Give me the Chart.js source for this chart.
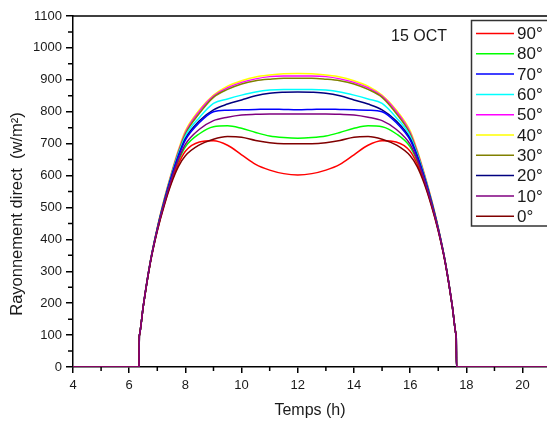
<!DOCTYPE html>
<html lang="fr">
<head>
<meta charset="UTF-8">
<title>Rayonnement direct - 15 OCT</title>
<script src="https://cdn.jsdelivr.net/npm/chart.js"></script>
<style>
  html, body { margin: 0; padding: 0; background: #fff; }
  canvas { display: block; }
</style>
</head>
<body>
<canvas id="rayChart" width="547" height="421"></canvas>
<script>
// heures (h)
var temps = [4, 6.35, 6.36, 6.365, 6.5, 6.75, 7, 7.25, 7.5, 7.75, 8, 8.5, 9, 9.5, 10, 10.5, 11, 11.5, 12,
             12.5, 13, 13.5, 14, 14.5, 15, 15.5, 16, 16.25, 16.5, 16.75, 17, 17.25, 17.5, 17.635, 17.64, 17.65, 21];

// rayonnement direct (w/m2) par inclinaison
var ray90 = [0, 0, 96, 100, 189, 326, 428, 510, 580, 636, 676, 705, 709, 695, 665, 635, 617, 606, 602,
             606, 617, 635, 665, 695, 709, 705, 676, 636, 580, 510, 428, 326, 189, 100, 96, 0, 0];
var ray80 = [0, 0, 96, 100, 189, 327, 429, 513, 585, 645, 690, 731, 753, 756, 748, 735, 724, 719, 717,
             719, 724, 735, 748, 756, 753, 731, 690, 645, 585, 513, 429, 327, 189, 100, 96, 0, 0];
var ray70 = [0, 0, 96, 100, 190, 328, 432, 519, 594, 659, 711, 766, 800, 805, 806, 807, 808, 807, 806,
             807, 808, 807, 806, 805, 800, 766, 711, 659, 594, 519, 432, 328, 190, 100, 96, 0, 0];
var ray60 = [0, 0, 96, 100, 191, 329, 434, 522, 600, 668, 724, 782, 826, 840, 852, 862, 868, 870, 870,
             870, 868, 862, 852, 840, 826, 782, 724, 668, 600, 522, 434, 329, 191, 100, 96, 0, 0];
var ray50 = [0, 0, 96, 100, 192, 330, 436, 526, 605, 676, 735, 802, 849, 875, 892, 903, 910, 912, 912,
             912, 910, 903, 892, 875, 849, 802, 735, 676, 605, 526, 436, 330, 192, 100, 96, 0, 0];
var ray40 = [0, 0, 96, 100, 192, 330, 437, 528, 608, 680, 740, 806, 852, 880, 897, 909, 915, 919, 920,
             919, 915, 909, 897, 880, 852, 806, 740, 680, 608, 528, 437, 330, 192, 100, 96, 0, 0];
var ray30 = [0, 0, 96, 100, 191, 329, 435, 524, 602, 672, 730, 795, 845, 870, 887, 897, 902, 905, 905,
             905, 902, 897, 887, 870, 845, 795, 730, 672, 602, 524, 435, 329, 191, 100, 96, 0, 0];
var ray20 = [0, 0, 96, 100, 190, 328, 433, 520, 596, 662, 716, 772, 806, 824, 837, 850, 858, 861, 862,
             861, 858, 850, 837, 824, 806, 772, 716, 662, 596, 520, 433, 328, 190, 100, 96, 0, 0];
var ray10 = [0, 0, 96, 100, 190, 327, 430, 515, 588, 650, 698, 745, 772, 783, 790, 792, 793, 793, 793,
             793, 793, 792, 790, 783, 772, 745, 698, 650, 588, 515, 430, 327, 190, 100, 96, 0, 0];
var ray0  = [0, 0, 96, 100, 189, 325, 426, 507, 575, 628, 662, 696, 714, 722, 720, 710, 703, 700, 700,
             700, 703, 710, 720, 722, 714, 696, 662, 628, 575, 507, 426, 325, 189, 100, 96, 0, 0];

var angles = ['90°', '80°', '70°', '60°', '50°', '40°', '30°', '20°', '10°', '0°'];
var series = [ray90, ray80, ray70, ray60, ray50, ray40, ray30, ray20, ray10, ray0];
var couleurs = ['#ff0000', '#00ff00', '#0000ff', '#00ffff', '#ff00ff',
                '#ffff00', '#808000', '#000080', '#800080', '#800000'];
// ordre de dessin (le plus petit dessus)
var ordres = [2, 3, 4, 6, 8, 9, 7, 5, 0, 1];

var xTicks = [4, 6, 8, 10, 12, 14, 16, 18, 20];
var yTicks = [0, 100, 200, 300, 400, 500, 600, 700, 800, 900, 1000, 1100];

var police = '"Liberation Sans", Arial, sans-serif';

var datasets = series.map(function (s, i) {
    return {
        label: angles[i],
        data: temps.map(function (t, k) { return { x: t, y: s[k] }; }),
        borderColor: couleurs[i],
        borderWidth: 1.5,
        order: ordres[i],
        fill: false
    };
});

// petites graduations, cadre du haut, titre vertical, date et légende
var decor = {
    id: 'decor',
    afterDraw: function (chart) {
        var ctx = chart.ctx, xs = chart.scales.x, ys = chart.scales.y, a = chart.chartArea;
        ctx.save();
        ctx.strokeStyle = '#000';
        ctx.lineWidth = 1.5;
        ctx.beginPath();
        for (var v = 5; v <= 20; v += 2) {
            var px = xs.getPixelForValue(v);
            ctx.moveTo(px, a.bottom); ctx.lineTo(px, a.bottom + 4);
        }
        for (var w = 50; w < 1100; w += 100) {
            var py = ys.getPixelForValue(w);
            ctx.moveTo(a.left, py); ctx.lineTo(a.left - 5, py);
        }
        ctx.moveTo(a.left, a.top); ctx.lineTo(a.right, a.top);
        ctx.stroke();

        ctx.fillStyle = '#1a1a1a';
        ctx.textBaseline = 'middle';

        // titre de l'axe vertical
        ctx.save();
        ctx.translate(17, 214);
        ctx.rotate(-Math.PI / 2);
        ctx.textAlign = 'center';
        ctx.font = '16.5px ' + police;
        ctx.fillText('Rayonnement direct  (w/m²)', 0, 0);
        ctx.restore();

        ctx.textAlign = 'left';
        ctx.font = '16px ' + police;
        ctx.fillText('15 OCT', 391, 37);

        // légende
        var bx = 471.5, by = 20.5, bw = 80, bh = 205.5;
        ctx.fillStyle = '#fff';
        ctx.fillRect(bx, by, bw, bh);
        ctx.strokeStyle = '#333';
        ctx.lineWidth = 1.5;
        ctx.strokeRect(bx, by, bw, bh);
        ctx.font = '17px ' + police;
        chart.data.datasets.forEach(function (ds, i) {
            var cy = 33.5 + i * 20.3;
            ctx.strokeStyle = ds.borderColor;
            ctx.lineWidth = 1.5;
            ctx.beginPath();
            ctx.moveTo(476, cy); ctx.lineTo(514, cy);
            ctx.stroke();
            ctx.fillStyle = '#1a1a1a';
            ctx.fillText(ds.label, 517, cy + 1);
        });
        ctx.restore();
    }
};

new Chart(document.getElementById('rayChart').getContext('2d'), {
    type: 'line',
    data: { datasets: datasets },
    options: {
        responsive: false,
        animation: false,
        devicePixelRatio: 1,
        layout: { padding: { top: 16, right: 0, left: 0, bottom: 0 } },
        plugins: { legend: { display: false }, tooltip: { enabled: false } },
        elements: {
            point: { radius: 0 },
            line: { cubicInterpolationMode: 'monotone' }
        },
        scales: {
            x: {
                type: 'linear',
                min: 4,
                max: 20.87,
                afterFit: function (s) { s.height = 54; },
                afterBuildTicks: function (s) { s.ticks = xTicks.map(function (v) { return { value: v }; }); },
                ticks: { color: '#1a1a1a', font: { family: police, size: 13 }, padding: 5, maxRotation: 0,
                         callback: function (v) { return String(v); } },
                grid: { drawOnChartArea: false, color: '#000', lineWidth: 1.5, tickLength: 6 },
                border: { color: '#000', width: 1.5 },
                title: { display: true, text: 'Temps (h)', color: '#1a1a1a',
                         font: { family: police, size: 16 }, padding: { top: 0, bottom: 1 } }
            },
            y: {
                min: 0,
                max: 1100,
                afterFit: function (s) { s.width = 73; },
                afterBuildTicks: function (s) { s.ticks = yTicks.map(function (v) { return { value: v }; }); },
                ticks: { color: '#1a1a1a', font: { family: police, size: 13 }, padding: 4,
                         callback: function (v) { return String(v); } },
                grid: { drawOnChartArea: false, color: '#000', lineWidth: 1.5, tickLength: 7 },
                border: { color: '#000', width: 1.5 },
                title: { display: false }
            }
        }
    },
    plugins: [decor]
});
</script>
</body>
</html>
